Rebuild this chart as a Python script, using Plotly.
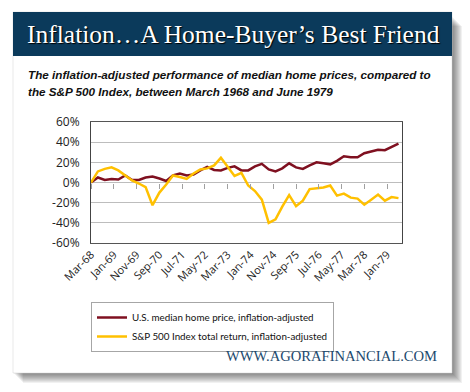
import plotly.graph_objects as go

# ---------------- data ----------------
quarters = [
    "1968-03", "1968-06", "1968-09", "1968-12",
    "1969-03", "1969-06", "1969-09", "1969-12",
    "1970-03", "1970-06", "1970-09", "1970-12",
    "1971-03", "1971-06", "1971-09", "1971-12",
    "1972-03", "1972-06", "1972-09", "1972-12",
    "1973-03", "1973-06", "1973-09", "1973-12",
    "1974-03", "1974-06", "1974-09", "1974-12",
    "1975-03", "1975-06", "1975-09", "1975-12",
    "1976-03", "1976-06", "1976-09", "1976-12",
    "1977-03", "1977-06", "1977-09", "1977-12",
    "1978-03", "1978-06", "1978-09", "1978-12",
    "1979-03", "1979-06",
]

home_prices = [
    0, 5, 2.5, 3.5, 3, 7, 2.5, 2.5, 5, 6, 4, 1.5,
    7, 9, 7, 8, 12, 15.5, 12.5, 12, 14.5, 16, 12, 12,
    16, 18.5, 13, 11, 14, 19, 15, 13.5, 17, 20, 19, 18,
    21.5, 26, 25, 25, 29, 31, 32.5, 32, 35, 38.5,
]

sp500 = [
    0, 11, 13.5, 15, 12, 7, 2, -1, -4.5, -22.5, -10, -2,
    7, 5.5, 3.5, 9, 13, 14, 17, 24.5, 15.5, 6.5, 9.5, -3,
    -8.5, -17, -40, -36.5, -24, -12.5, -23.5, -18, -6.5, -6, -5, -3,
    -13, -11, -15, -16, -22, -17, -12, -18, -14.5, -15.5,
]

x_tick_vals = ["1968-03", "1969-01", "1969-11", "1970-09", "1971-07", "1972-05",
               "1973-03", "1974-01", "1974-11", "1975-09", "1976-07", "1977-05",
               "1978-03", "1979-01"]
x_tick_text = ["Mar-68", "Jan-69", "Nov-69", "Sep-70", "Jul-71", "May-72",
               "Mar-73", "Jan-74", "Nov-74", "Sep-75", "Jul-76", "May-77",
               "Mar-78", "Jan-79"]

y_tick_vals = [-60, -40, -20, 0, 20, 40, 60]
y_tick_text = ["-60%", "-40%", "-20%", "0%", "20%", "40%", "60%"]

series_names = ["U.S. median home price, inflation-adjusted",
                "S&P 500 Index total return, inflation-adjusted"]

title_text = "Inflation…A Home-Buyer’s Best Friend"
subtitle_1 = "The inflation-adjusted performance of median home prices, compared to"
subtitle_2 = "the S&P 500 Index, between March 1968 and June 1979"
footer_text = "WWW.AGORAFINANCIAL.COM"

# ---------------- layout helpers ----------------
W, H = 470, 392
PL, PR, PT, PB = 91, 402, 122, 243   # plot area in pixels


def px(x):
    return (x - PL) / (PR - PL)


def py(y):
    return (PB - y) / (PB - PT)


x_range = ["1968-03-01", "1979-07-18"]

RED = "#7f1020"
GOLD = "#ffc000"
NAVY = "#0b3a5b"

fig = go.Figure()
fig.add_trace(go.Scatter(x=quarters, y=home_prices, mode="lines",
                         name=series_names[0],
                         line=dict(color=RED, width=2.5)))
fig.add_trace(go.Scatter(x=quarters, y=sp500, mode="lines",
                         name=series_names[1],
                         line=dict(color=GOLD, width=2.5)))
# helper trace so the zero-line tick axis is drawn
fig.add_trace(go.Scatter(x=[quarters[0]], y=[None], xaxis="x2", yaxis="y",
                         mode="lines", showlegend=False, hoverinfo="skip"))

shapes = []
# card shadow
for k in range(1, 11):
    shapes.append(dict(type="rect", xref="paper", yref="paper", layer="below",
                       x0=px(13 + k), x1=px(452 + k), y0=py(12 + k + 4), y1=py(373 + k),
                       fillcolor="rgba(0,0,0,0.055)", line=dict(width=0)))
# card
shapes.append(dict(type="rect", xref="paper", yref="paper", layer="below",
                   x0=px(13), x1=px(452), y0=py(12), y1=py(373),
                   fillcolor="white", line=dict(color="#d0d0d0", width=0.5)))
# title bar
shapes.append(dict(type="rect", xref="paper", yref="paper", layer="below",
                   x0=px(13), x1=px(452), y0=py(12), y1=py(56),
                   fillcolor=NAVY, line=dict(width=0)))

annotations = [
    dict(text=title_text, xref="paper", yref="paper", x=px(233), y=py(34),
         xanchor="center", yanchor="middle", showarrow=False,
         font=dict(family="Liberation Serif", size=25.5, color="white",
                   shadow="1px 1px 1px #000")),
    dict(text="<b><i>" + subtitle_1 + "</i></b>", xref="paper", yref="paper",
         x=px(26), y=py(74), xanchor="left", yanchor="middle", showarrow=False,
         font=dict(family="Liberation Sans", size=11.7, color="#111")),
    dict(text="<b><i>" + subtitle_2 + "</i></b>", xref="paper", yref="paper",
         x=px(26), y=py(91), xanchor="left", yanchor="middle", showarrow=False,
         font=dict(family="Liberation Sans", size=11.7, color="#111")),
    dict(text=footer_text, xref="paper", yref="paper",
         x=px(439), y=py(356), xanchor="right", yanchor="middle", showarrow=False,
         font=dict(family="Liberation Serif", size=14.6, color="#1d4a6e")),
]

fig.update_layout(
    width=W, height=H,
    margin=dict(l=PL, r=W - PR, t=PT, b=H - PB, autoexpand=False),
    paper_bgcolor="white",
    plot_bgcolor="rgba(0,0,0,0)",
    showlegend=True,
    legend=dict(x=px(91), y=py(302), xanchor="left", yanchor="top",
                bordercolor="#a6a6a6", borderwidth=1, bgcolor="white",
                font=dict(family="Lato", size=9.8, color="#111"),
                itemwidth=30, tracegroupgap=0),
    shapes=shapes,
    annotations=annotations,
    xaxis=dict(type="date", range=x_range, tickmode="array",
               tickvals=x_tick_vals, ticktext=x_tick_text, tickangle=-45,
               ticks="", showgrid=False, showline=True, mirror=True,
               linecolor="#555", linewidth=1, zeroline=False,
               tickfont=dict(family="Open Sans", size=11, color="#222")),
    xaxis2=dict(type="date", range=x_range, overlaying="x", anchor="free",
                position=0.5, side="bottom", tickmode="array",
                tickvals=x_tick_vals, ticks="outside", ticklen=5,
                tickcolor="#a0a0a0", showticklabels=False, showline=False,
                showgrid=False, zeroline=False),
    yaxis=dict(range=[-60, 60], tickmode="array", tickvals=y_tick_vals,
               ticktext=y_tick_text, showgrid=True, gridcolor="#bdbdbd",
               gridwidth=1, zeroline=True, zerolinecolor="#bdbdbd",
               zerolinewidth=1, showline=True, mirror=True, linecolor="#444",
               linewidth=1, ticks="", ticklabelstandoff=8,
               tickfont=dict(family="Open Sans", size=12, color="#222")),
)

fig.write_html("out.html", config={"displayModeBar": False},
               post_script="document.body.style.margin='0';document.body.style.padding='0';")
